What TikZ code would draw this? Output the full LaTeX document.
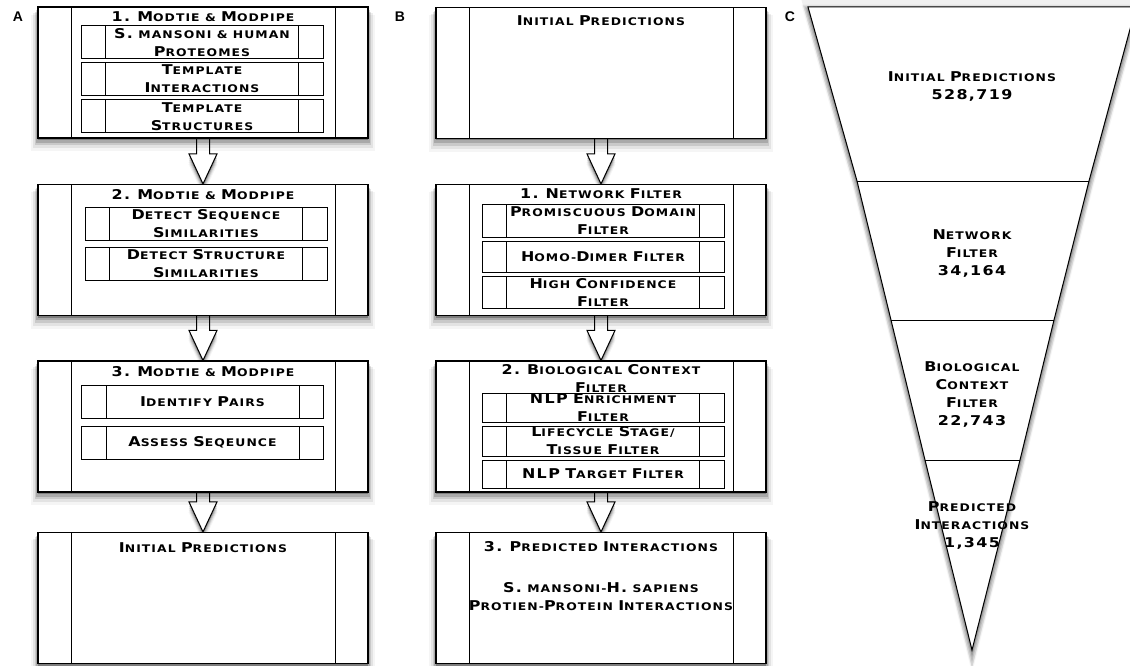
\documentclass[tikz,border=0pt]{standalone}
\usepackage{fontspec}
\setmainfont{DejaVu Sans}
\newfontfamily\cpf[FakeStretch=1.18,LetterSpace=10]{DejaVu Sans}
\newfontfamily\lbf{Liberation Sans}
\usetikzlibrary{shadows,calc}
\pgfdeclarelayer{bg}
\pgfsetlayers{bg,main}
\newcommand\BL[1]{{\fontsize{13.5pt}{18pt}\selectfont #1}}
\newcommand\SMF{\fontsize{10.5pt}{18pt}\selectfont}
\newcommand\flowarrow[2]{%
  \draw[barrow] let \p1=(#1.south), \p2=(#2.north) in
    ({\x1-6.5pt},\y1) -- ({\x1-6.5pt},{\y2+30pt}) -- ({\x1-14pt},{\y2+30pt}) --
    (\x1,\y2) -- ({\x1+14pt},{\y2+30pt}) -- ({\x1+6.5pt},{\y2+30pt}) -- ({\x1+6.5pt},\y1);}
\tikzset{
  shd/.style={
    general shadow={fill=black,opacity=.25,shadow yshift=-2pt},
    general shadow={fill=black,opacity=.16,shadow yshift=-4pt,shadow scale=1.01},
    general shadow={fill=black,opacity=.11,shadow yshift=-6pt,shadow scale=1.02},
    general shadow={fill=black,opacity=.07,shadow yshift=-8pt,shadow scale=1.03},
    general shadow={fill=black,opacity=.04,shadow yshift=-10pt,shadow scale=1.04}},
  bigbox/.style={draw, fill=white, line width=1.2pt, minimum width=330pt,
    minimum height=131pt, inner sep=0pt, shd,
    path picture={\draw[line width=1pt]
      ([xshift=33pt]path picture bounding box.north west) -- ([xshift=33pt]path picture bounding box.south west)
      ([xshift=-33pt]path picture bounding box.north east) -- ([xshift=-33pt]path picture bounding box.south east);}},
  subbox/.style={draw, fill=white, line width=1pt, minimum width=242pt,
    minimum height=33pt, inner sep=0pt, align=center, font=\cpf\bfseries\SMF,
    path picture={\draw[line width=1pt]
      ([xshift=24.5pt]path picture bounding box.north west) -- ([xshift=24.5pt]path picture bounding box.south west)
      ([xshift=-24.5pt]path picture bounding box.north east) -- ([xshift=-24.5pt]path picture bounding box.south east);}},
  txt/.style={align=center, inner sep=0pt, font=\cpf\bfseries\SMF},
  barrow/.style={draw, fill=white, line width=1pt, line join=miter, shd},
  lbl/.style={font=\lbf\bfseries\fontsize{14pt}{14pt}\selectfont, inner sep=0pt},
  funnel/.style={draw, fill=white, line width=1pt, line join=miter, shd,
    general shadow={fill=black,opacity=.06,shadow yshift=-3pt,shadow scale=1.05}}
}
\begin{document}
\begin{tikzpicture}[x=1pt,y=-1pt]
\useasboundingbox (0,0) rectangle (1130,666);
\clip (0,0) rectangle (1130,666);

% ---------- Panel A ----------
\node[lbl] (la) at (18,17) {A};
\node[bigbox] (a1) at (203,72.5) {};
\node[txt] (a1t) at (203,17) {\BL{1.} \BL{M}ODTIE \& \BL{M}ODPIPE};
\node[subbox] (a1s1) at (202,42.5) {\BL{S.} MANSONI \& HUMAN\\\BL{P}ROTEOMES};
\node[subbox] (a1s2) at (202,79) {\BL{T}EMPLATE\\\BL{I}NTERACTIONS};
\node[subbox] (a1s3) at (202,116.5) {\BL{T}EMPLATE\\\BL{S}TRUCTURES};

\node[bigbox] (a2) at (203,250) {};
\node[txt] (a2t) at (203,195) {\BL{2.} \BL{M}ODTIE \& \BL{M}ODPIPE};
\node[subbox] (a2s1) at (206,223.5) {\BL{D}ETECT \BL{S}EQUENCE\\\BL{S}IMILARITIES};
\node[subbox] (a2s2) at (206,263.5) {\BL{D}ETECT \BL{S}TRUCTURE\\\BL{S}IMILARITIES};

\node[bigbox] (a3) at (203,426.5) {};
\node[txt] (a3t) at (203,372) {\BL{3.} \BL{M}ODTIE \& \BL{M}ODPIPE};
\node[subbox] (a3s1) at (202.5,402) {\BL{I}DENTIFY \BL{P}AIRS};
\node[subbox] (a3s2) at (202.5,442.5) {\BL{A}SSESS \BL{S}EQEUNCE};

\node[bigbox] (a4) at (203,598) {};
\node[txt] (a4t) at (203,548) {\BL{I}NITIAL \BL{P}REDICTIONS};

% ---------- Panel B ----------
\node[lbl] (lb) at (400,17) {B};
\node[bigbox] (b1) at (601,73) {};
\node[txt] (b1t) at (601,21) {\BL{I}NITIAL \BL{P}REDICTIONS};

\node[bigbox] (b2) at (601,250) {};
\node[txt] (b2t) at (601,194) {\BL{1.} \BL{N}ETWORK \BL{F}ILTER};
\node[subbox] (b2s1) at (603,220.5) {\BL{P}ROMISCUOUS \BL{D}OMAIN\\\BL{F}ILTER};
\node[subbox, minimum height=31pt] (b2s2) at (603,256.5) {\BL{H}OMO-\BL{D}IMER \BL{F}ILTER};
\node[subbox, minimum height=32pt] (b2s3) at (603,292) {\BL{H}IGH \BL{C}ONFIDENCE\\\BL{F}ILTER};

\node[bigbox] (b3) at (601,426.5) {};
\node[subbox, minimum height=29pt] (b3s1) at (603,407.5) {\BL{NLP} \BL{E}NRICHMENT\\\BL{F}ILTER};
\node[subbox, minimum height=30pt] (b3s2) at (603,441) {\BL{L}IFECYCLE \BL{S}TAGE/\\\BL{T}ISSUE \BL{F}ILTER};
\node[subbox, minimum height=28pt] (b3s3) at (603,474) {\BL{NLP} \BL{T}ARGET \BL{F}ILTER};
\node[txt] (b3t) at (601,378) {\BL{2.} \BL{B}IOLOGICAL \BL{C}ONTEXT\\\BL{F}ILTER};

\node[bigbox] (b4) at (601,598) {};
\node[txt] (b4t) at (601,547) {\BL{3.} \BL{P}REDICTED \BL{I}NTERACTIONS};
\node[txt] (b4b) at (601,597) {\BL{S.} MANSONI-\BL{H.} SAPIENS\\\BL{P}ROTIEN-\BL{P}ROTEIN \BL{I}NTERACTIONS};

% ---------- arrows ----------
\begin{pgfonlayer}{bg}
\fill[white] (0,0) rectangle (1130,666);
\flowarrow{a1}{a2}
\flowarrow{a2}{a3}
\flowarrow{a3}{a4}
\flowarrow{b1}{b2}
\flowarrow{b2}{b3}
\flowarrow{b3}{b4}
\end{pgfonlayer}

% ---------- Panel C ----------
\node[lbl] (lc) at (790,17) {C};
\draw[funnel] (808,7) -- (1136,7) -- (1089,181) -- (1054,320) -- (1020,460) -- (972,650)
  -- (925,460) -- (891,320) -- (857,181) -- cycle;
\draw[line width=1pt] (857,181) -- (1089,181);
\draw[line width=1pt] (891,320) -- (1054,320);
\draw[line width=1pt] (925,460) -- (1020,460);
\node[txt] (c1) at (972,86.5) {\BL{I}NITIAL \BL{P}REDICTIONS\\\BL{528,719}};
\node[txt] (c2) at (972,253.5) {\BL{N}ETWORK\\\BL{F}ILTER\\\BL{34,164}};
\node[txt] (c3) at (972,394.5) {\BL{B}IOLOGICAL\\\BL{C}ONTEXT\\\BL{F}ILTER\\\BL{22,743}};
\node[txt] (c4) at (972,525.5) {\BL{P}REDICTED\\\BL{I}NTERACTIONS\\\BL{1,345}};
\end{tikzpicture}
\end{document}
